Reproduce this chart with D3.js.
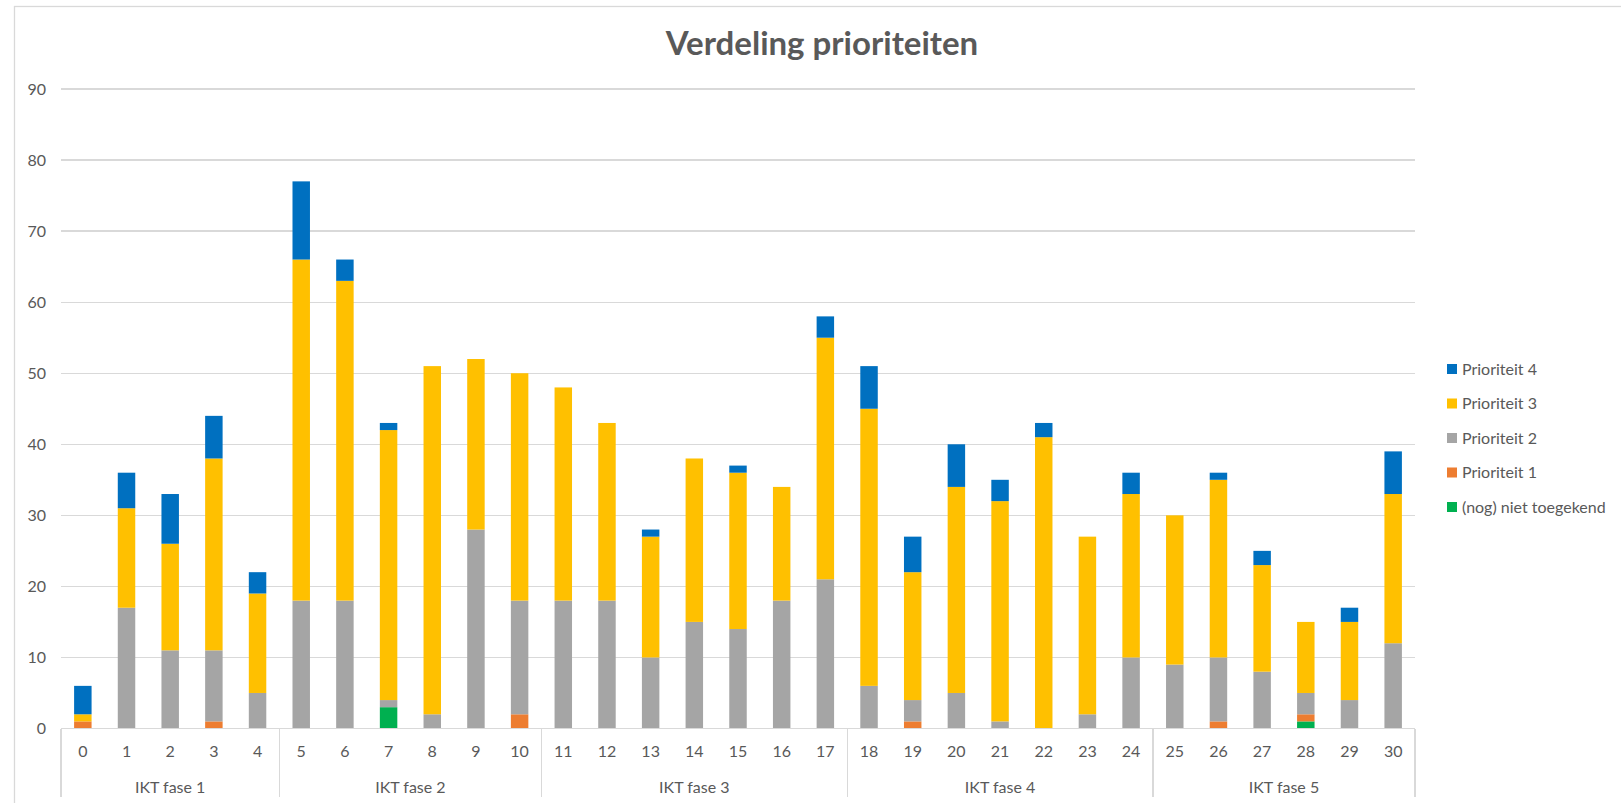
<!DOCTYPE html>
<html>
<head>
<meta charset="utf-8">
<script src="https://d3js.org/d3.v7.min.js"></script>
<style>
  body { margin: 0; background: #fff; }
  svg { font-family: Lato, "Open Sans", sans-serif; }
  .grid line { stroke: #d9d9d9; stroke-width: 1.3; shape-rendering: crispEdges; }
  .lbl { fill: #595959; font-size: 16px; }
</style>
</head>
<body>
<script>

  // categories and their groups
  var categories = d3.range(0, 31).map(String);
  var groups = [
    {name: "IKT fase 1", from: 0, to: 4},
    {name: "IKT fase 2", from: 5, to: 10},
    {name: "IKT fase 3", from: 11, to: 17},
    {name: "IKT fase 4", from: 18, to: 24},
    {name: "IKT fase 5", from: 25, to: 30}
  ];

  // series values
  var nietToegekend = [0,0,0,0,0, 0,0,3,0,0,0, 0,0,0,0,0,0,0, 0,0,0,0,0,0,0, 0,0,0,1,0,0];
  var prio1         = [1,0,0,1,0, 0,0,0,0,0,2, 0,0,0,0,0,0,0, 0,1,0,0,0,0,0, 0,1,0,1,0,0];
  var prio2         = [0,17,11,10,5, 18,18,1,2,28,16, 18,18,10,15,14,18,21, 6,3,5,1,0,2,10, 9,9,8,3,4,12];
  var prio3         = [1,14,15,27,14, 48,45,38,49,24,32, 30,25,17,23,22,16,34, 39,18,29,31,41,25,23, 21,25,15,10,11,21];
  var prio4         = [4,5,7,6,3, 11,3,1,0,0,0, 0,0,1,0,1,0,3, 6,5,6,3,2,0,3, 0,1,2,0,2,6];

  var seriesNames = ["(nog) niet toegekend", "Prioriteit 1", "Prioriteit 2", "Prioriteit 3", "Prioriteit 4"];
  var seriesColors = ["#00b050", "#ed7d31", "#a5a5a5", "#ffc000", "#0070c0"];
  var yTicks = [0, 10, 20, 30, 40, 50, 60, 70, 80, 90];

  var W = 1621, H = 803;
  var plotLeft = 61, plotRight = 1415, plotTop = 89, plotBottom = 728.5;

  // build rows for d3.stack
  var rows = categories.map(function(c, i) {
    return {cat: c, s0: nietToegekend[i], s1: prio1[i], s2: prio2[i], s3: prio3[i], s4: prio4[i]};
  });
  var keys = ["s0", "s1", "s2", "s3", "s4"];
  var stacked = d3.stack().keys(keys)(rows);

  var x = d3.scaleBand().domain(categories).range([plotLeft, plotRight]).paddingInner(0.6).paddingOuter(0.3);
  var y = d3.scaleLinear().domain([0, 90]).range([plotBottom, plotTop]);

  var svg = d3.select("body").append("svg")
      .attr("width", W)
      .attr("height", H);

  // chart border
  svg.append("rect")
      .attr("x", 14.5).attr("y", 6.5)
      .attr("width", W + 50).attr("height", H + 50)
      .attr("fill", "none").attr("stroke", "#d9d9d9").attr("stroke-width", 1.3);

  // title
  svg.append("text")
      .attr("x", 822).attr("y", 55)
      .attr("text-anchor", "middle")
      .attr("fill", "#595959")
      .style("font-size", "33px")
      .style("font-weight", "bold")
      .text("Verdeling prioriteiten");

  // gridlines
  svg.append("g").attr("class", "grid")
    .selectAll("line")
      .data(yTicks.slice(1))
    .enter().append("line")
      .attr("x1", plotLeft).attr("x2", plotRight)
      .attr("y1", function(d) { return y(d); })
      .attr("y2", function(d) { return y(d); });

  // y axis labels
  svg.append("g")
    .selectAll("text")
      .data(yTicks)
    .enter().append("text")
      .attr("class", "lbl")
      .attr("x", 46)
      .attr("y", function(d) { return y(d); })
      .attr("dy", "0.35em")
      .attr("text-anchor", "end")
      .text(function(d) { return d; });

  // bars
  svg.append("g")
    .selectAll("g")
      .data(stacked)
    .enter().append("g")
      .attr("fill", function(d, i) { return seriesColors[i]; })
    .selectAll("rect")
      .data(function(d) { return d.filter(function(p) { return p[1] > p[0]; }); })
    .enter().append("rect")
      .attr("x", function(d) { return x(d.data.cat); })
      .attr("width", x.bandwidth())
      .attr("y", function(d) { return y(d[1]); })
      .attr("height", function(d) { return y(d[0]) - y(d[1]); });

  // category axis line
  var axisG = svg.append("g").attr("class", "grid");
  axisG.append("line")
      .attr("x1", plotLeft).attr("x2", plotRight)
      .attr("y1", plotBottom).attr("y2", plotBottom);

  // group dividers
  var step = x.step();
  var dividers = [plotLeft].concat(groups.map(function(g) { return plotLeft + (g.to + 1) * step; }));
  axisG.selectAll(".div")
      .data(dividers)
    .enter().append("line")
      .attr("x1", function(d) { return d; })
      .attr("x2", function(d) { return d; })
      .attr("y1", plotBottom).attr("y2", 797);

  // category labels
  svg.append("g")
    .selectAll("text")
      .data(categories)
    .enter().append("text")
      .attr("class", "lbl")
      .attr("x", function(d) { return x(d) + x.bandwidth() / 2; })
      .attr("y", 751)
      .attr("dy", "0.35em")
      .attr("text-anchor", "middle")
      .text(function(d) { return d; });

  // group labels
  svg.append("g")
    .selectAll("text")
      .data(groups)
    .enter().append("text")
      .attr("class", "lbl")
      .attr("x", function(g) { return plotLeft + (g.from + g.to + 1) / 2 * step; })
      .attr("y", 787)
      .attr("dy", "0.35em")
      .attr("text-anchor", "middle")
      .text(function(g) { return g.name; });

  // legend (top to bottom: Prioriteit 4 ... niet toegekend)
  var legend = svg.append("g")
    .selectAll("g")
      .data(d3.range(seriesNames.length).reverse())
    .enter().append("g")
      .attr("transform", function(d, i) { return "translate(1447," + (369 + i * 34.5) + ")"; });

  legend.append("rect")
      .attr("x", 0).attr("y", -5)
      .attr("width", 10).attr("height", 10)
      .attr("fill", function(d) { return seriesColors[d]; });

  legend.append("text")
      .attr("class", "lbl")
      .attr("x", 15)
      .attr("dy", "0.35em")
      .text(function(d) { return seriesNames[d]; });

</script>
</body>
</html>
